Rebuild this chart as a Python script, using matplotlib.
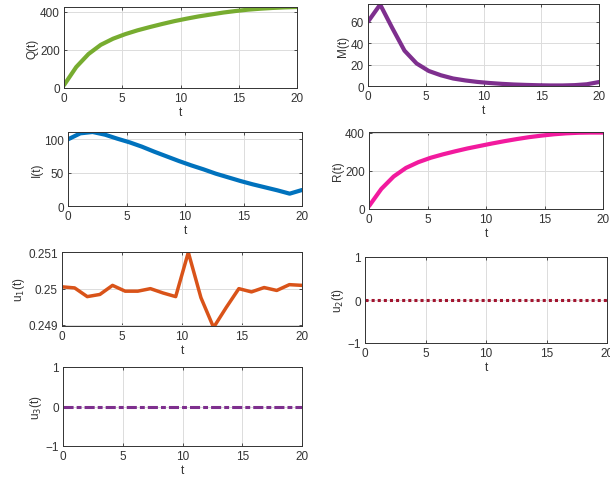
import numpy as np
import matplotlib
matplotlib.use("Agg")
import matplotlib.pyplot as plt

plt.rcParams['font.family'] = ['Liberation Sans', 'DejaVu Sans']

t = np.linspace(0, 20, 20)

Q = [15, 110, 178, 226, 258, 282, 302, 319, 335, 350, 363, 375, 385, 395, 403, 410, 415, 419, 422, 424]
M = [60, 76, 54, 33, 21, 14, 10, 7, 5.2, 3.8, 2.8, 2.0, 1.4, 1.0, 0.7, 0.5, 0.5, 0.8, 1.6, 3.7]
I = [100, 109, 111, 107, 101, 95.5, 89, 81.5, 74.5, 67.5, 61, 55, 48.5, 43, 37.5, 32.5, 28, 23.5, 18.5, 24]
R = [15, 105, 170, 215, 245, 268, 286, 302, 317, 330, 343, 355, 366, 376, 384, 391, 396, 399, 400, 400]
u1 = [0.25005, 0.25002, 0.24978, 0.24984, 0.25009, 0.24993, 0.24993, 0.25000, 0.24988, 0.24978,
      0.25100, 0.24975, 0.24893, 0.24948, 0.25000, 0.24991, 0.25003, 0.24995, 0.25011, 0.25009]
u2 = [0.0] * 20
u3 = [0.0] * 20

xticks = [0, 5, 10, 15, 20]

W, H = 610, 481
fig = plt.figure(figsize=(W / 100, H / 100), dpi=100)

def add_ax(left, right, top, bottom):
    return fig.add_axes([left / W, 1 - bottom / H, (right - left) / W, (bottom - top) / H])

tc = '#333333'
fs = 8.5

def style(ax, ylabel, ylim, yticks, yticklabels=None):
    ax.set_xlim(0, 20)
    ax.set_ylim(*ylim)
    ax.set_xticks(xticks)
    ax.set_yticks(yticks)
    if yticklabels is not None:
        ax.set_yticklabels(yticklabels)
    ax.grid(True, color='#dcdcdc', linewidth=0.7)
    ax.set_axisbelow(True)
    ax.tick_params(direction='in', length=2.5, width=0.6, labelsize=fs, colors=tc, pad=3,
                   top=True, right=True)
    for s in ax.spines.values():
        s.set_color(tc)
        s.set_linewidth(0.7)
    ax.set_xlabel('t', fontsize=fs, color=tc, labelpad=1)
    ax.set_ylabel(ylabel, fontsize=fs, color=tc, labelpad=1)

lw = 3.0

ax = add_ax(64, 297, 8, 89)
ax.plot(t, Q, color=(0.466, 0.674, 0.188), lw=lw, solid_capstyle='round')
style(ax, 'Q(t)', (0, 424), [0, 200, 400])

ax = add_ax(368, 599, 5, 87)
ax.plot(t, M, color=(0.494, 0.184, 0.556), lw=lw, solid_capstyle='round')
style(ax, 'M(t)', (0, 76.5), [0, 20, 40, 60])

ax = add_ax(68, 302, 133, 207)
ax.plot(t, I, color=(0.0, 0.447, 0.741), lw=lw, solid_capstyle='round')
style(ax, 'I(t)', (0, 111), [0, 50, 100])

ax = add_ax(369, 603, 133, 210)
ax.plot(t, R, color=(0.95, 0.10, 0.62), lw=lw, solid_capstyle='round')
style(ax, 'R(t)', (0, 403), [0, 200, 400])

ax = add_ax(62, 302, 253, 327)
ax.plot(t, u1, color=(0.85, 0.325, 0.098), lw=2.5, solid_capstyle='round')
style(ax, r'u$_1$(t)', (0.24897, 0.25101), [0.249, 0.25, 0.251], ['0.249', '0.25', '0.251'])

ax = add_ax(365, 607, 258, 344)
ax.plot(t, u2, color=(0.635, 0.078, 0.184), lw=2.2, dashes=(1, 1), dash_capstyle='butt')
style(ax, r'u$_2$(t)', (-1, 1), [-1, 0, 1])

ax = add_ax(63, 302, 368, 447)
ax.plot(t, u3, color=(0.494, 0.184, 0.556), lw=2.2, dashes=(3.3, 1, 1.6, 1), dash_capstyle='butt')
style(ax, r'u$_3$(t)', (-1, 1), [-1, 0, 1])

fig.savefig('out.png', dpi=100)
